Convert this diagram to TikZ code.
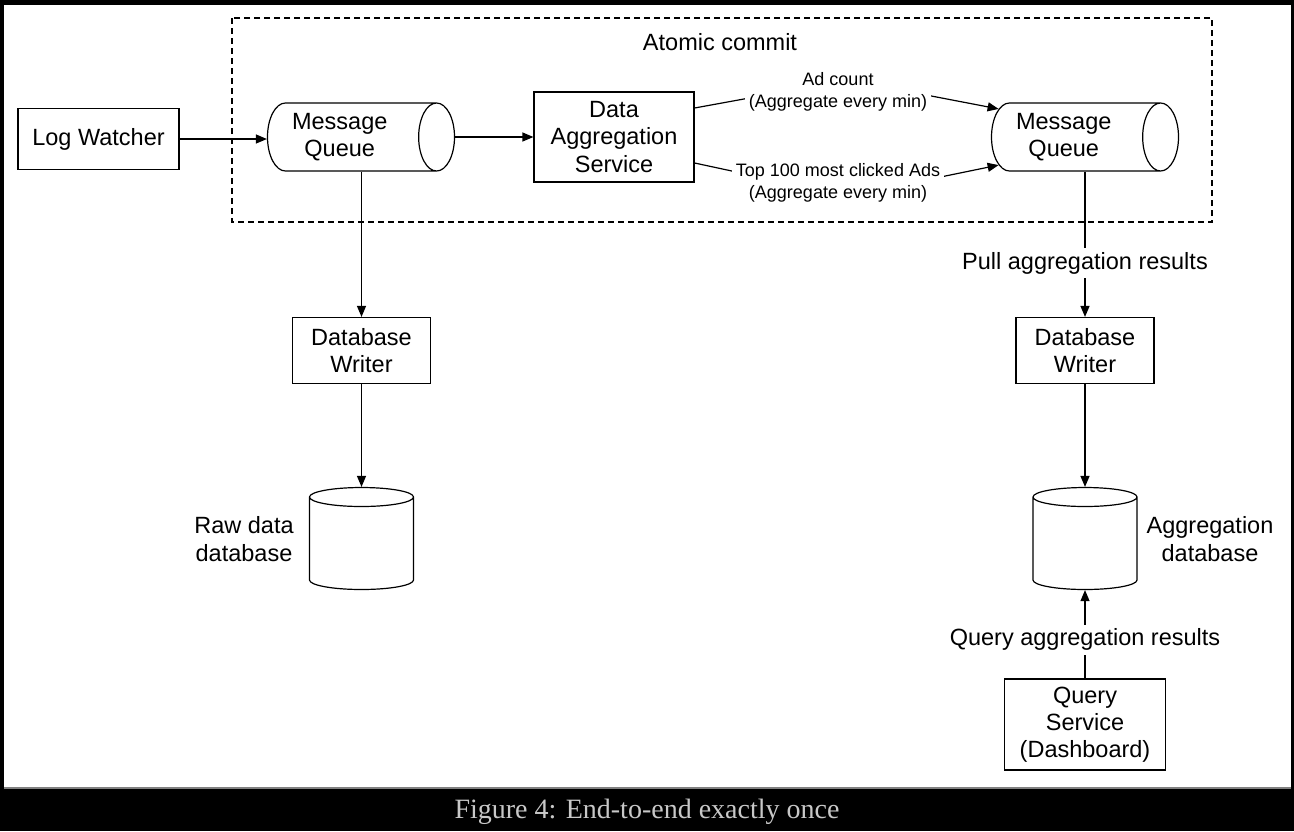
\documentclass[tikz,border=0pt]{standalone}
\usepackage{fontspec}
\setsansfont{Liberation Sans}
\setmainfont{Liberation Serif}
\usetikzlibrary{shapes.geometric,arrows.meta}
\definecolor{capgray}{RGB}{200,200,200}
\newcommand{\qpad}{\hspace*{12pt}}
\tikzset{
  every node/.style={font=\sffamily\fontsize{11.75}{13.6}\selectfont,align=center},
  box/.style={draw,rectangle,line width=0.6pt,inner sep=0pt},
  queue/.style={draw,cylinder,shape aspect=0.75,line width=0.6pt,inner sep=0pt,
    minimum height=93.5pt,minimum width=34pt,anchor=shape center},
  store/.style={draw,cylinder,shape border rotate=90,shape aspect=1,line width=0.6pt,
    inner sep=4.75pt,minimum height=51pt,minimum width=52pt,anchor=shape center},
  small/.style={font=\sffamily\fontsize{9}{11}\selectfont},
  gap/.style={fill=white,inner sep=2pt},
  conn/.style={line width=0.6pt,-{Triangle[length=5.5pt,width=4.5pt]}},
  dashbox/.style={line width=0.6pt,dash pattern=on 3pt off 2pt},
}
\begin{document}
\begin{tikzpicture}[x=0.5pt,y=-0.5pt]
  % frame and caption bar
  \fill[black] (0,0) rectangle (1294,831);
  \fill[white] (4,5) rectangle (1291,788);
  \draw[gray,line width=0.8pt] (4,788) -- (1291,788);
  \node[text=capgray,font=\rmfamily\fontsize{14}{16}\selectfont] (caption) at (647,812) {Figure 4: End-to-end exactly once};

  % atomic commit region
  \draw[dashbox] (232,18) rectangle (1212,222);
  \node (atomic) at (720,42) {Atomic commit};

  \node[box,minimum width=80.5pt,minimum height=30.5pt] (lw) at (98.5,139) {Log Watcher};
  \node[queue] (mq1) at (361,137) {Message\qpad\\Queue\qpad};
  \node[box,minimum width=80pt,minimum height=45pt] (das) at (614,137) {Data\\Aggregation\\Service};
  \node[queue] (mq2) at (1085,137) {Message\qpad\\Queue\qpad};
  \node[box,minimum width=69pt,minimum height=33pt] (dbw1) at (361.5,350.5) {Database\\Writer};
  \node[box,minimum width=69pt,minimum height=33pt] (dbw2) at (1085,350.5) {Database\\Writer};
  \node[store] (rawdb) at (361.5,538.5) {};
  \node[store] (aggdb) at (1085,538.5) {};
  \node (rawlbl) at (244,539) {Raw data\\database};
  \node (agglbl) at (1210,539) {Aggregation\\database};
  \node[box,minimum width=80.5pt,minimum height=45.5pt] (qs) at (1085,724.5) {Query\\Service\\(Dashboard)};
  \coordinate (bendup) at (848,80);
  \coordinate (benddn) at (848,196);

  \draw[conn] (lw.east) -- (mq1.west |- lw.east);
  \draw[conn] (mq1.east) -- (das.west |- mq1.east);
  \draw[conn] ([yshift=14.5pt]das.east) -- (bendup) -- (mq2.160);
  \draw[conn] ([yshift=-13pt]das.east) -- (benddn) -- (mq2.200);
  \node[small,gap] (adlbl) at (838,91.5) {Ad count\\(Aggregate every min)};
  \node[small,gap] (toplbl) at (838,182.5) {Top 100 most clicked Ads\\(Aggregate every min)};
  \draw[conn] (dbw1.north |- mq1.south) -- (dbw1.north);
  \draw[conn] (dbw1.south) -- (rawdb.top);
  \draw[conn] (dbw2.north |- mq2.south) -- node[gap,pos=0.63] (pull) {Pull aggregation results} (dbw2.north);
  \draw[conn] (dbw2.south) -- (aggdb.top);
  \draw[conn] (qs.north) -- node[gap,pos=0.44] (query) {Query aggregation results} (aggdb.bottom);
\end{tikzpicture}
\end{document}
